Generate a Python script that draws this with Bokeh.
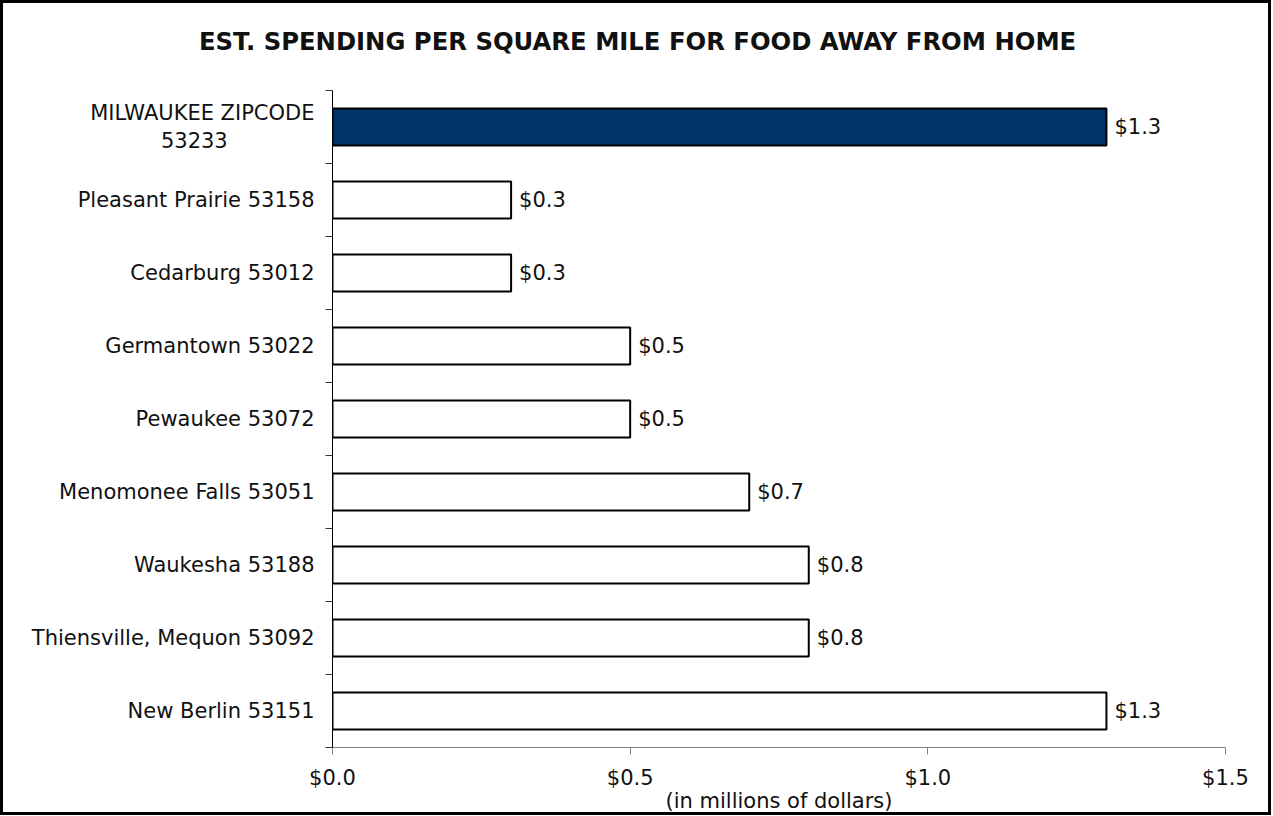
from bokeh.plotting import figure
from bokeh.models import (ColumnDataSource, Range1d, FixedTicker,
                          NumeralTickFormatter, LabelSet, Title)
from bokeh.core.properties import value
from bokeh.embed import file_html
from bokeh.resources import INLINE

# ---- data ----
categories = ["MILWAUKEE ZIPCODE 53233", "Pleasant Prairie 53158", "Cedarburg 53012",
              "Germantown 53022", "Pewaukee 53072", "Menomonee Falls 53051",
              "Waukesha 53188", "Thiensville, Mequon 53092", "New Berlin 53151"]
# second line of the first label is padded so that it sits centred under the first line
tick_labels = ["MILWAUKEE ZIPCODE\n53233" + "\u00a0" * 13, "Pleasant Prairie 53158",
               "Cedarburg 53012", "Germantown 53022", "Pewaukee 53072",
               "Menomonee Falls 53051", "Waukesha 53188", "Thiensville, Mequon 53092",
               "New Berlin 53151"]
values = [1.3, 0.3, 0.3, 0.5, 0.5, 0.7, 0.8, 0.8, 1.3]
x_ticks = [0.0, 0.5, 1.0, 1.5]
title_text = "EST. SPENDING PER SQUARE MILE FOR FOOD AWAY FROM HOME"
x_title = "(in millions of dollars)"

FONT = "DejaVu Sans"
TXT = "#111111"
HILITE = "#003366"

n = len(categories)
# category slots, first category at the top
ypos = [n - i - 0.5 for i in range(n)]
bounds = list(range(n + 1))
fills = [HILITE if i == 0 else "#ffffff" for i in range(n)]
src = ColumnDataSource(dict(y=ypos, cat=categories, val=values, fill=fills,
                            vlabel=["${:.1f}".format(v) for v in values]))

p = figure(width=1271, height=815, output_backend="svg", toolbar_location=None,
           y_range=Range1d(0, n), x_range=Range1d(0, 1.5), title=None,
           min_border_left=329, min_border_right=49, min_border_top=87, min_border_bottom=71)
p.styles = {"border": "3px solid #000000"}
p.outline_line_color = None
p.xgrid.grid_line_color = None
p.ygrid.grid_line_color = None
p.background_fill_color = "#ffffff"
p.border_fill_color = "#ffffff"

# spacer (closest to the frame) then the chart title above it
p.add_layout(Title(text="\u00a0", text_font=FONT, text_font_size="10px", standoff=22), "above")
p.add_layout(Title(text=title_text, align="left", offset=-133.5, standoff=0,
                   vertical_align="bottom", text_font=FONT, text_font_size="24.3px",
                   text_font_style="bold", text_color=TXT), "above")

ya = p.yaxis[0]
ya.ticker = FixedTicker(ticks=ypos, minor_ticks=bounds)
ya.major_label_overrides = {y: lab for y, lab in zip(ypos, tick_labels)}
ya.major_tick_out = 0
ya.major_tick_in = 0
ya.minor_tick_out = 7
ya.minor_tick_in = 0
ya.minor_tick_line_color = "#333333"
ya.axis_line_color = "#000000"
ya.major_label_text_font = FONT
ya.major_label_text_font_size = "21px"
ya.major_label_text_color = TXT
ya.major_label_text_line_height = 1.2
ya.major_label_standoff = 11

xa = p.xaxis[0]
xa.ticker = FixedTicker(ticks=x_ticks)
xa.formatter = NumeralTickFormatter(format="$0.0")
xa.axis_line_color = "#808080"
xa.major_tick_line_color = "#808080"
xa.major_tick_out = 7
xa.major_tick_in = 0
xa.minor_tick_out = 0
xa.minor_tick_in = 0
xa.major_label_text_font = FONT
xa.major_label_text_font_size = "21px"
xa.major_label_text_color = TXT
xa.major_label_standoff = 11
xa.axis_label = x_title
xa.axis_label_text_font = FONT
xa.axis_label_text_font_size = "21px"
xa.axis_label_text_font_style = "normal"
xa.axis_label_text_color = TXT
xa.axis_label_standoff = -4

p.hbar(y="y", right="val", left=0, height=0.51, source=src,
       fill_color="fill", line_color="#000000", line_width=2)

p.add_layout(LabelSet(x="val", y="y", text="vlabel", source=src, x_offset=8,
                      text_align="left", text_baseline="middle", text_font=value(FONT),
                      text_font_size=value("21px"), text_color=TXT))

open("out.html", "w").write(file_html(p, INLINE))
